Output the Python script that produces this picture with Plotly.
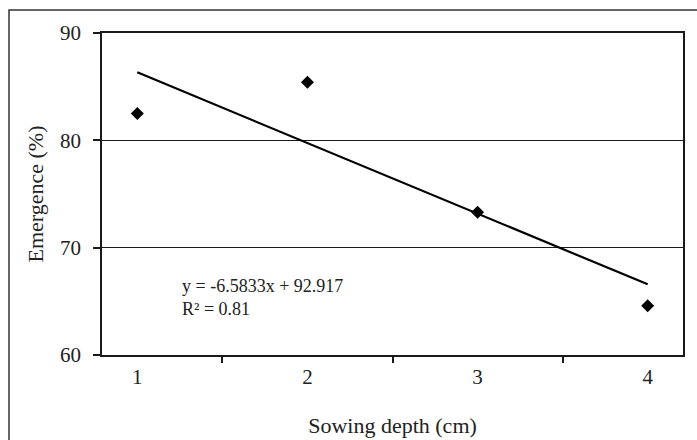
import plotly.graph_objects as go

# Data
depth = [1, 2, 3, 4]                    # sowing depth (cm)
emergence = [82.5, 85.4, 73.3, 64.6]    # emergence (%)
slope = -6.5833
intercept = 92.917
eq_text = "y = -6.5833x + 92.917<br>R² = 0.81"
y_ticks = [60, 70, 80, 90]

trend_x = [depth[0], depth[-1]]
trend_y = [slope * v + intercept for v in trend_x]

FONT = "Liberation Serif, Times New Roman, serif"
LINE = "#1a1a1a"

fig = go.Figure()
fig.add_trace(go.Scatter(
    x=depth, y=emergence, mode="markers",
    marker=dict(symbol="diamond", size=10, color="black"),
    showlegend=False))
fig.add_trace(go.Scatter(
    x=trend_x, y=trend_y, mode="lines",
    line=dict(color="black", width=2.2), showlegend=False, hoverinfo="skip"))

W, H = 697, 440
L, R, T, B = 102, 14, 33, 85
pw, ph = W - L - R, H - T - B

def px(x):
    return (x - L) / pw

def py(y):
    return (H - B - y) / ph

fig.update_layout(
    width=W, height=H,
    margin=dict(l=L, r=R, t=T, b=B, autoexpand=False),
    paper_bgcolor="white", plot_bgcolor="white",
    font=dict(family=FONT, size=20, color="#222"),
    xaxis=dict(
        type="category",
        categoryorder="array", categoryarray=depth,
        tickson="boundaries",
        automargin=False,
        ticks="outside", ticklen=6, tickwidth=1.5, tickcolor=LINE,
        showline=True, linecolor=LINE, linewidth=1.5, mirror=True,
        showgrid=False, zeroline=False,
        tickfont=dict(family=FONT, size=21, color="#222"),
        ticklabelstandoff=2,
        title=dict(text="Sowing depth (cm)", font=dict(family=FONT, size=22, color="#222"), standoff=30),
    ),
    yaxis=dict(
        range=[y_ticks[0], y_ticks[-1]],
        tickvals=y_ticks,
        automargin=False,
        ticks="outside", ticklen=7, tickwidth=1.5, tickcolor=LINE,
        showline=True, linecolor=LINE, linewidth=1.5, mirror=True,
        showgrid=True, gridcolor=LINE, gridwidth=1.3, zeroline=False,
        tickfont=dict(family=FONT, size=21, color="#222"),
        ticklabelstandoff=8,
        title=dict(text="Emergence (%)", font=dict(family=FONT, size=22, color="#222"), standoff=10),
    ),
    annotations=[dict(
        xref="paper", yref="paper", x=px(180), y=py(274),
        xanchor="left", yanchor="top", align="left", showarrow=False,
        text=eq_text, font=dict(family=FONT, size=18, color="#222"))],
    shapes=[dict(
        type="rect", xref="paper", yref="paper",
        x0=px(9), y0=py(460), x1=px(720), y1=py(10),
        line=dict(color="#333", width=1.5), fillcolor="rgba(0,0,0,0)", layer="below")],
)

fig.write_html(
    "out.html",
    config={"displayModeBar": False},
    post_script="document.body.style.margin='0';document.body.style.overflow='hidden';",
)
